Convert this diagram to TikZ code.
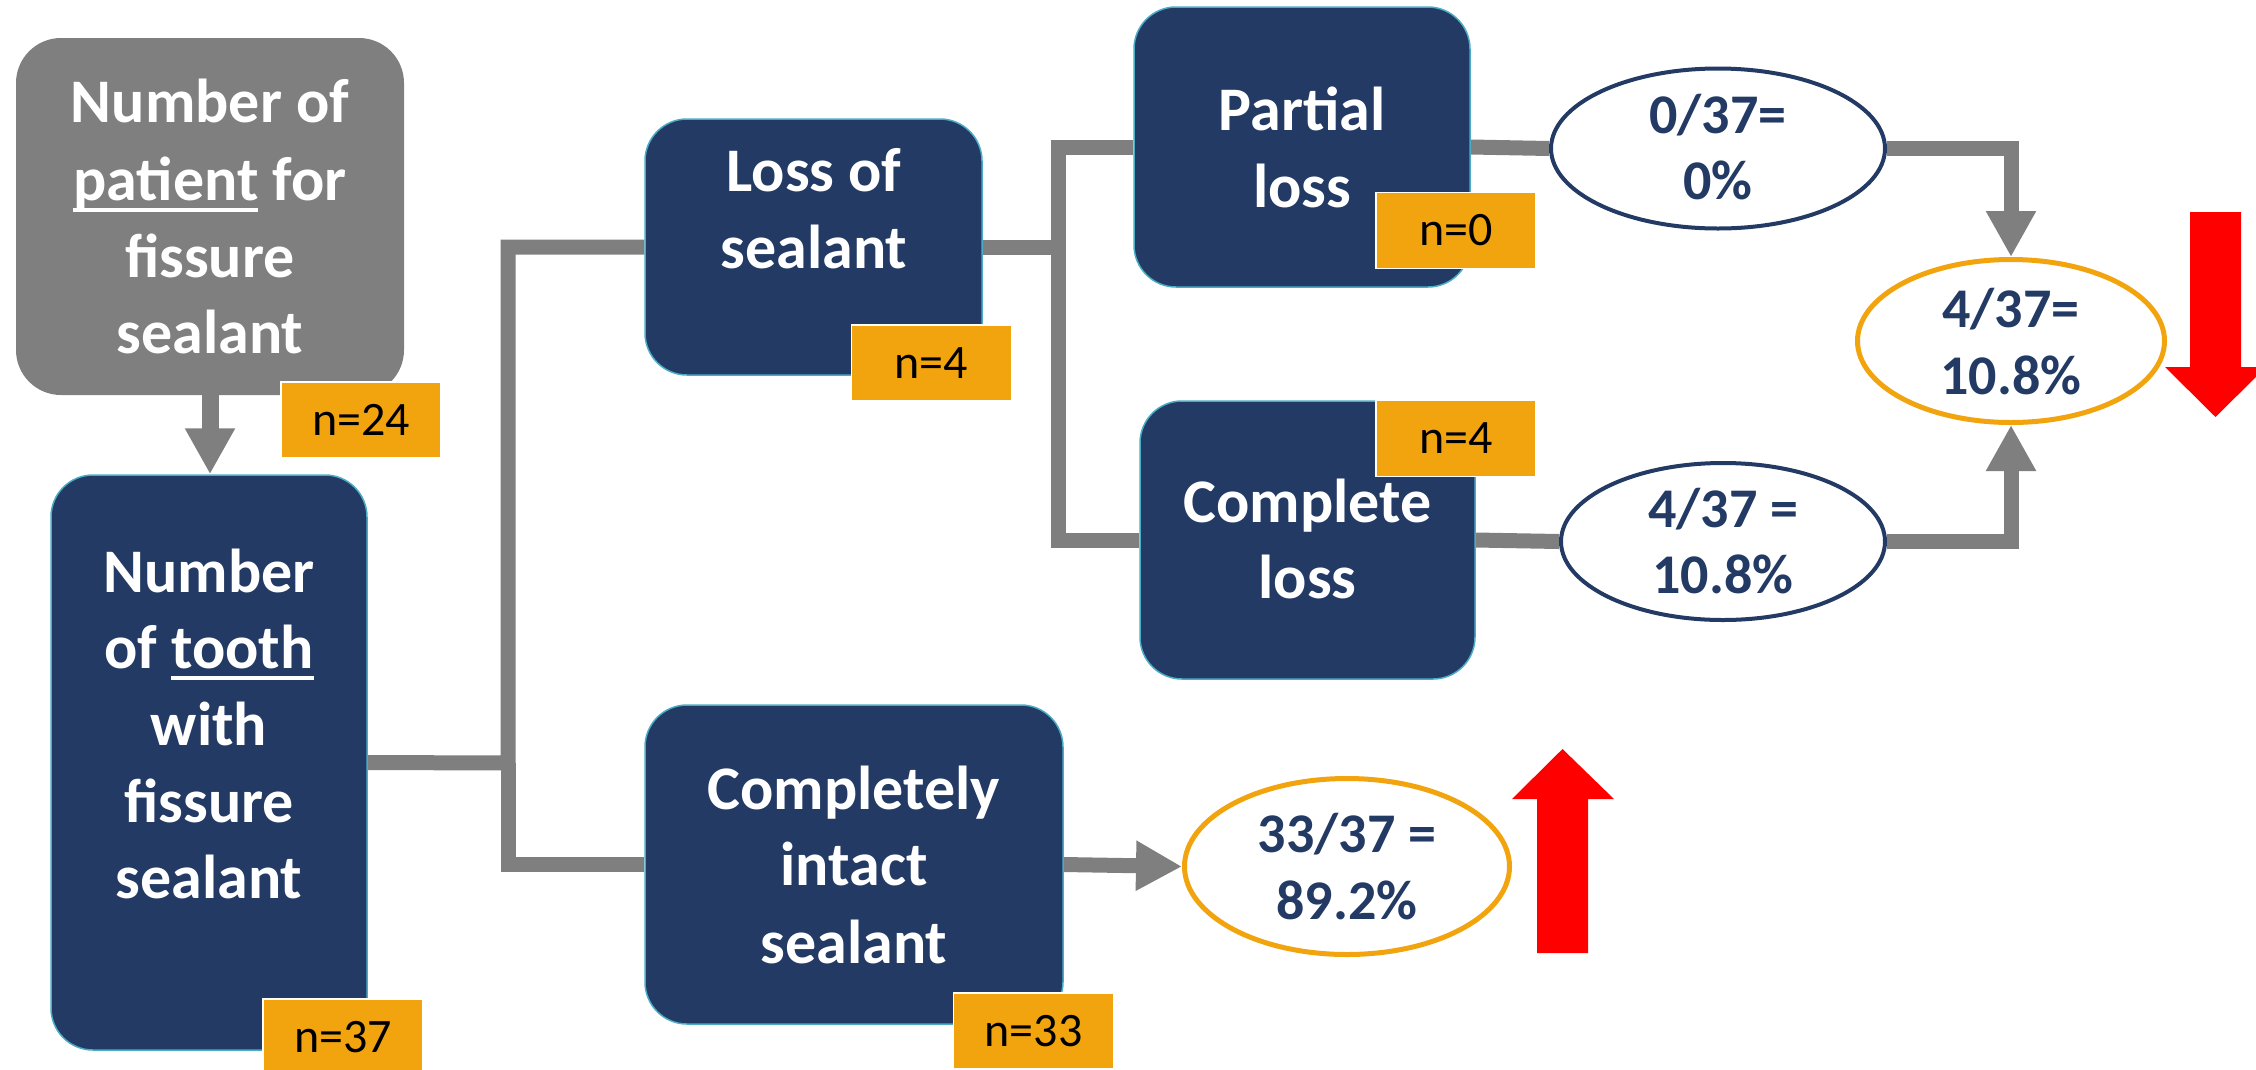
\documentclass[tikz,border=0pt]{standalone}
\usepackage{fontspec}
\setmainfont{Carlito}
\usetikzlibrary{arrows.meta,shapes.geometric}
\definecolor{navy}{RGB}{34,58,100}
\definecolor{cgray}{RGB}{127,127,127}
\definecolor{corange}{RGB}{241,164,13}
\definecolor{cteal}{RGB}{75,172,198}
\definecolor{cred}{RGB}{255,0,0}
\pgfdeclarelayer{back}
\pgfsetlayers{back,main}
\newsavebox\ulbox
\newcommand\myul[1]{\sbox\ulbox{#1}\rlap{\rule[-12pt]{\wd\ulbox}{4pt}}\usebox\ulbox}
\begin{document}
\begin{tikzpicture}[x=1pt,y=-1pt,
  navybox/.style={rectangle, rounded corners=42pt, fill=navy, draw=cteal, line width=1.5pt, inner sep=0},
  graybox/.style={rectangle, rounded corners=45pt, fill=cgray, inner sep=0},
  nbox/.style={rectangle, fill=corange, draw=white, line width=1.5pt, minimum width=160pt, minimum height=76pt, inner sep=0, font=\fontsize{48}{58}\selectfont, text=black},
  ell/.style={ellipse, fill=white, inner sep=0},
  btxt/.style={anchor=base, inner sep=0, text=white, font=\fontsize{62}{77}\selectfont\bfseries},
  etxt/.style={anchor=base, inner sep=0, text=navy, font=\fontsize{56}{67}\selectfont\bfseries},
  conn/.style={draw=cgray, line width=15pt, line join=miter, line cap=butt},
  arr/.style={conn, -{Triangle[width=47pt,length=46pt]}}
]
\useasboundingbox (0,0) rectangle (2256,1069);
\clip (0,0) rectangle (2256,1069);

% boxes
\node[graybox, minimum width=388pt, minimum height=357pt] (gbox) at (210,216.5) {};
\node[navybox, minimum width=316pt, minimum height=575pt] (navy1) at (209,762.5) {};
\node[navybox, minimum width=337pt, minimum height=256pt] (loss) at (813.5,247) {};
\node[navybox, minimum width=418pt, minimum height=319pt] (intact) at (854,864.5) {};
\node[navybox, minimum width=336pt, minimum height=280pt] (partial) at (1302,147) {};
\node[navybox, minimum width=335pt, minimum height=278pt] (complete) at (1307.5,540) {};

% ellipses
\node[ell, draw=navy, line width=4pt, minimum width=334pt, minimum height=160pt] (e0) at (1718,148.5) {};
\node[ell, draw=corange, line width=5pt, minimum width=307pt, minimum height=163pt] (e4o) at (2011,341) {};
\node[ell, draw=navy, line width=4pt, minimum width=324pt, minimum height=157pt] (e4n) at (1723,541.5) {};
\node[ell, draw=corange, line width=5pt, minimum width=325pt, minimum height=176pt] (e33) at (1347,866.5) {};

% connectors, behind the boxes
\begin{pgfonlayer}{back}
\coordinate (j1) at (508,763);
\coordinate (j2) at (1058,247);
\draw[arr, line width=17pt] (gbox.south) -- (gbox.south |- navy1.north);
\draw[conn] (navy1.east) -- (j1) |- (loss.west);
\draw[conn] (j1) |- (intact.west);
\draw[conn] (loss.east) -- (j2) |- (partial.west);
\draw[conn] (j2) |- (complete.west);
\draw[conn] (partial.east) -- (e0.west);
\draw[conn] (complete.east) -- (e4n.west);
\draw[arr] (e0.east) -| (e4o.north);
\draw[arr] (e4n.east) -| (e4o.south);
\draw[arr] (intact.east) -- (e33.west);
\end{pgfonlayer}

% box texts
\node[btxt] (g1) at (210,122) {Number of};
\node[btxt] (g2) at (210,200) {\myul{patient} for};
\node[btxt] (g3) at (210,277) {fissure};
\node[btxt] (g4) at (210,353) {sealant};

\node[btxt] (t1) at (209,592) {Number};
\node[btxt] (t2) at (209,668) {of \myul{tooth}};
\node[btxt] (t3) at (209,745) {with};
\node[btxt] (t4) at (209,822) {fissure};
\node[btxt] (t5) at (209,898) {sealant};

\node[btxt] (l1) at (814,191) {Loss of};
\node[btxt] (l2) at (814,268) {sealant};

\node[btxt] (p1) at (1302,130) {Partial};
\node[btxt] (p2) at (1302,207) {loss};

\node[btxt] (c1) at (1307.5,522) {Complete};
\node[btxt] (c2) at (1307.5,598) {loss};

\node[btxt] (i1) at (854,809) {Completely};
\node[btxt] (i2) at (854,885) {intact};
\node[btxt] (i3) at (854,963) {sealant};

% ellipse texts
\node[etxt] (e0a) at (1718,133) {0/37=};
\node[etxt] (e0b) at (1718,199) {0\%};
\node[etxt] (e4oa) at (2011,327) {4/37=};
\node[etxt] (e4ob) at (2011,394) {10.8\%};
\node[etxt] (e4na) at (1723,527) {4/37 =};
\node[etxt] (e4nb) at (1723,593) {10.8\%};
\node[etxt] (e33a) at (1347,852) {33/37 =};
\node[etxt] (e33b) at (1347,919) {89.2\%};

% n boxes
\node[nbox] (n24) at (361,420) {n=24};
\node[nbox] (n37) at (343,1037) {n=37};
\node[nbox] (n4a) at (931.5,363) {n=4};
\node[nbox] (n0) at (1456,230.5) {n=0};
\node[nbox] (n4b) at (1456,438.5) {n=4};
\node[nbox] (n33) at (1033.5,1031) {n=33};

% red arrows
\fill[cred] (2190,212) -- (2241,212) -- (2241,367) -- (2266,367) -- (2215.5,417) -- (2165,367) -- (2190,367) -- cycle;
\fill[cred] (1537,953) -- (1588,953) -- (1588,799) -- (1614,799) -- (1562.5,749) -- (1512,799) -- (1537,799) -- cycle;
\end{tikzpicture}
\end{document}
